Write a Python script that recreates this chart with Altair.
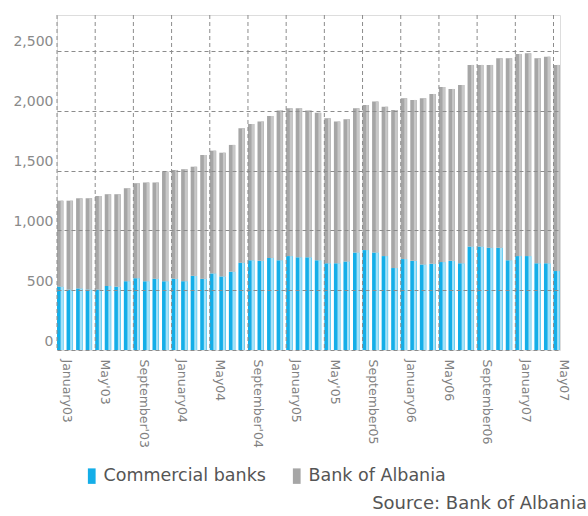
import altair as alt
import pandas as pd

# Month categories (Jan 2003 .. May 2007); tick months carry the printed label
months = [
    "January03", "Feb03", "Mar03", "Apr03", "May'03", "Jun03", "Jul03", "Aug03",
    "September'03", "Oct03", "Nov03", "Dec03",
    "January04", "Feb04", "Mar04", "Apr04", "May04", "Jun04", "Jul04", "Aug04",
    "September'04", "Oct04", "Nov04", "Dec04",
    "January05", "Feb05", "Mar05", "Apr05", "May'05", "Jun05", "Jul05", "Aug05",
    "September05", "Oct05", "Nov05", "Dec05",
    "January06", "Feb06", "Mar06", "Apr06", "May06", "Jun06", "Jul06", "Aug06",
    "September06", "Oct06", "Nov06", "Dec06",
    "January07", "Feb07", "Mar07", "Apr07", "May07",
]
tick_labels = ["January03", "May'03", "September'03", "January04", "May04",
               "September'04", "January05", "May'05", "September05", "January06",
               "May06", "September06", "January07", "May07"]

commercial_banks = [530, 505, 515, 505, 505, 535, 530, 575, 600, 575, 595, 575, 595,
                    575, 620, 595, 640, 615, 655, 730, 750, 745, 770, 750, 785, 775,
                    775, 750, 725, 725, 740, 815, 835, 815, 785, 685, 760, 745, 715,
                    720, 735, 745, 725, 865, 865, 855, 855, 750, 785, 785, 725, 725, 660]
bank_of_albania = [718, 743, 753, 763, 782, 767, 772, 777, 794, 824, 804, 916, 910,
                   936, 912, 1035, 1026, 1034, 1059, 1123, 1139, 1164, 1186, 1251, 1236,
                   1246, 1226, 1232, 1212, 1184, 1189, 1206, 1213, 1261, 1249, 1321,
                   1344, 1345, 1389, 1420, 1463, 1437, 1490, 1518, 1518, 1528, 1583,
                   1688, 1690, 1695, 1713, 1727, 1723]

series_names = ["Commercial banks", "Bank of Albania"]

rows = []
for i, m in enumerate(months):
    rows.append({"month": m, "series": series_names[0], "value": commercial_banks[i], "ord": 0})
    rows.append({"month": m, "series": series_names[1], "value": bank_of_albania[i], "ord": 1})
df = pd.DataFrame(rows)

FONT = "DejaVu Sans"
GRID = "#8c8c8c"

x_scale = alt.Scale(paddingInner=0.32, paddingOuter=0)
x_enc = alt.X(
    "month:N", sort=months, scale=x_scale,
    axis=alt.Axis(
        title=None, values=tick_labels, bandPosition=0, labelAngle=90,
        labelFont=FONT, labelFontSize=12.5, labelColor="#808080", labelPadding=9,
        labelOffset=7, ticks=False, domain=False, grid=False,
        labelOverlap=False,
    ),
)
y_enc = alt.Y(
    "value:Q", stack="zero",
    scale=alt.Scale(domain=[0, 2800], nice=False),
    axis=alt.Axis(
        title=None, values=[0, 500, 1000, 1500, 2000, 2500], format=",.0f",
        labelFont=FONT, labelFontSize=14, labelColor="#8a8a8a", labelPadding=4,
        labelOffset=-9, ticks=False, domain=False, grid=True, gridColor=GRID,
        gridDash=[4, 3], gridWidth=1, zindex=1,
    ),
)

bars = alt.Chart(df).mark_bar().encode(
    x=x_enc,
    y=y_enc,
    color=alt.Color(
        "series:N",
        scale=alt.Scale(domain=series_names, range=["#14aee8", "#a6a6a6"]),
        legend=alt.Legend(
            title=None, orient="none", legendX=26, legendY=452,
            direction="horizontal", symbolType="M-0.5,-1H0.5V1H-0.5Z",
            symbolSize=240, symbolStrokeWidth=0, labelFont=FONT,
            labelFontSize=17.5, labelColor="#555555", labelOffset=3,
            labelLimit=400, columnPadding=22,
        ),
    ),
    order=alt.Order("ord:Q"),
)

highlight = alt.Chart(df).mark_bar(width=2.5, xOffset=1.6).encode(
    x=x_enc,
    y=y_enc,
    color=alt.Color(
        "series:N",
        scale=alt.Scale(domain=series_names, range=["#a6e2f8", "#c8c8c8"]),
        legend=None,
    ),
    order=alt.Order("ord:Q"),
)

grid_df = pd.DataFrame({"month": tick_labels})
vgrid = alt.Chart(grid_df).mark_rule(
    color=GRID, strokeDash=[4, 3], strokeWidth=1
).encode(x=alt.X("month:N", sort=months, bandPosition=0))

source_df = pd.DataFrame({"t": ["Source: Bank of Albania"]})
source = alt.Chart(source_df).mark_text(
    align="right", baseline="middle", font=FONT, fontSize=18, color="#555555"
).encode(x=alt.value(530), y=alt.value(489), text="t:N")

chart = (
    alt.layer(bars, highlight, vgrid, source)
    .resolve_scale(color="independent")
    .properties(
        width=503, height=335,
        autosize=alt.AutoSizeParams(type="none"),
        padding={"left": 57, "top": 15, "right": 28, "bottom": 166},
    )
    .configure_view(stroke=GRID, strokeDash=[4, 3], strokeWidth=1)
    .configure(background="white")
)

chart.save("out.html", embed_options={"renderer": "svg", "actions": False})
